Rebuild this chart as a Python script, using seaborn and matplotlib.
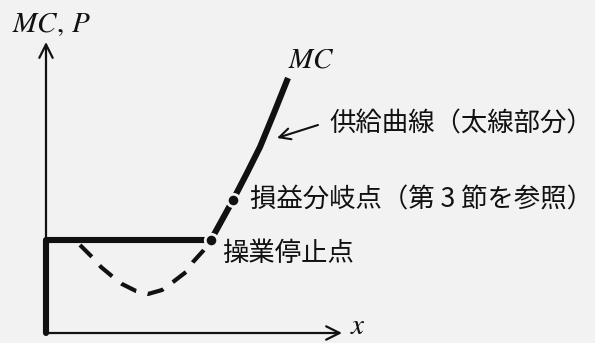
import numpy as np
import pandas as pd
import matplotlib
matplotlib.use("Agg")
import matplotlib.pyplot as plt
import seaborn as sns

sns.set_theme(style="white")
plt.rcParams["font.family"] = ["Noto Sans CJK JP", "DejaVu Sans"]
plt.rcParams["mathtext.fontset"] = "stix"

BG = "#f2f2f2"
INK = "#111111"

# =============================================================================
# DATA (x = output, y = cost / price)
# =============================================================================
# MC below the shutdown point (dashed part)
mc_low_x = [3.4, 4.7, 5.5, 6.7, 7.6, 9.0, 10.2, 11.6, 12.7, 14.0, 14.7, 15.7, 16.5]
mc_low_y = [8.8, 7.5, 6.6, 5.6, 4.9, 4.2, 3.9, 4.3, 5.1, 6.1, 7.1, 8.2, 9.3]

# MC above the shutdown point (thick part = supply curve)
mc_up_x = [16.5, 17.6, 18.7, 20.1, 21.4, 22.8, 24.2]
mc_up_y = [9.3, 11.3, 13.3, 16.0, 18.6, 22.0, 25.5]

# vertical + flat piece of the supply curve (price below shutdown -> x = 0)
supply_x = [0.0, 0.0, 16.5]
supply_y = [0.0, 9.3, 9.3]

point_names = ["操業停止点", "損益分岐点（第 3 節を参照）"]
point_x = [16.5, 18.7]
point_y = [9.3, 13.3]

low = pd.DataFrame({"x": mc_low_x, "y": mc_low_y})
up = pd.DataFrame({"x": mc_up_x, "y": mc_up_y})
sup = pd.DataFrame({"x": supply_x, "y": supply_y})
pts = pd.DataFrame({"name": point_names, "x": point_x, "y": point_y})

# =============================================================================
# FIGURE
# =============================================================================
fig = plt.figure(figsize=(5.95, 3.43), dpi=100, facecolor=BG)
ax = fig.add_axes([0, 0, 1, 1])
ax.set_facecolor(BG)
ax.set_xlim(-4.6, 54.9)
ax.set_ylim(-1.0, 33.3)
ax.axis("off")

# axes with arrow heads
arrow_kw = dict(arrowstyle="->", lw=1.6, color=INK, mutation_scale=24,
                shrinkA=0, shrinkB=0)
ax.annotate("", xy=(0, 29.1), xytext=(0, 0), arrowprops=arrow_kw)
ax.annotate("", xy=(29.6, 0), xytext=(0, 0), arrowprops=arrow_kw)

# curves
sns.lineplot(data=low, x="x", y="y", ax=ax, color=INK, lw=3.0, sort=False,
             estimator=None)
ax.lines[-1].set_dashes((4.0, 2.8))
ax.lines[-1].set_dash_capstyle("butt")
sns.lineplot(data=sup, x="x", y="y", ax=ax, color=INK, lw=4.4, sort=False,
             estimator=None)
sns.lineplot(data=up, x="x", y="y", ax=ax, color=INK, lw=4.4, sort=False,
             estimator=None)
ax.lines[-1].set_solid_capstyle("butt")

sns.scatterplot(data=pts, x="x", y="y", ax=ax, color=INK, s=80,
                edgecolor=BG, linewidth=2.0, zorder=5)

# =============================================================================
# LABELS
# =============================================================================
ax.text(-3.4, 30.9, r"$MC,\,P$", fontsize=21, color=INK, va="center", ha="left")
ax.text(30.4, -0.85, r"$x$", fontsize=21, color=INK, va="bottom", ha="left")
ax.text(up["x"].iloc[-1] + 2.3, up["y"].iloc[-1] + 1.9, r"$MC$", fontsize=21,
        color=INK, va="center", ha="center")

ax.text(28.3, 20.9, "供給曲線（太線部分）", fontsize=19, color=INK,
        va="center", ha="left")
ax.annotate("", xy=(23.1, 19.5), xytext=(27.2, 20.8),
            arrowprops=dict(arrowstyle="->", lw=1.5, color=INK,
                            mutation_scale=20, shrinkA=0, shrinkB=0))

ax.text(20.4, 13.3, point_names[1], fontsize=19, color=INK, va="center", ha="left")
ax.text(17.6, 8.0, point_names[0], fontsize=19, color=INK, va="center", ha="left")

fig.savefig("out.png", dpi=100, facecolor=BG)
